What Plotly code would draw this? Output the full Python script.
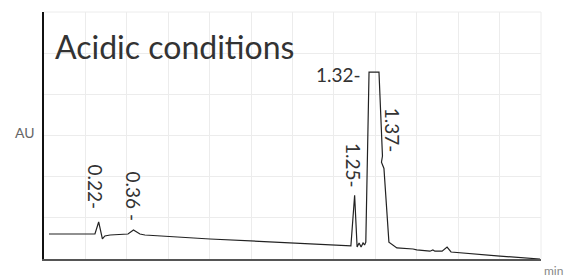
import plotly.graph_objects as go

time_min = [0.020, 0.205, 0.220, 0.235, 0.245, 0.266, 0.338, 0.360, 0.386, 0.406,
            0.668, 1.002, 1.235, 1.250, 1.260, 1.268, 1.276, 1.284, 1.290, 1.295,
            1.308, 1.348, 1.362, 1.358, 1.368, 1.388, 1.420, 1.485, 1.500, 1.553,
            1.565, 1.573, 1.602, 1.622, 1.638, 1.835, 1.996]
absorbance = [0.607, 0.607, 0.900, 0.486, 0.560, 0.583, 0.607, 0.704, 0.607, 0.583,
              0.486, 0.389, 0.320, 1.550, 0.290, 0.390, 0.290, 0.390, 0.340, 0.410,
              4.540, 4.540, 2.500, 2.350, 2.200, 0.410, 0.270, 0.243, 0.220, 0.190,
              0.220, 0.190, 0.190, 0.290, 0.170, 0.070, 0.000]

peak_labels = ["0.22-", "0.36 -", "1.25-", "1.32-", "1.37-"]
label_x = [0.209, 0.362, 1.243, 1.284, 1.404]
label_y = [1.74, 1.52, 2.26, 4.47, 3.12]
label_angle = [90, 90, 90, 0, 90]
label_xanchor = ["center", "center", "center", "right", "center"]

title_text = "Acidic conditions"
y_title = "AU"
x_title = "min"

FONT = "Lato, 'Open Sans', sans-serif"

fig = go.Figure()
fig.add_trace(go.Scatter(x=time_min, y=absorbance, mode="lines",
                         line=dict(color="#222222", width=1.2), hoverinfo="skip",
                         showlegend=False))

for t, x, y, a, xa in zip(peak_labels, label_x, label_y, label_angle, label_xanchor):
    fig.add_annotation(x=x, y=y, xref="x", yref="y", text=t, textangle=a,
                       showarrow=False, xanchor=xa, yanchor="middle",
                       font=dict(family=FONT, size=19, color="#333333"))

fig.add_annotation(x=0.018, y=0.862, xref="paper", yref="paper", text=title_text,
                   showarrow=False, xanchor="left", yanchor="middle",
                   font=dict(family=FONT, size=32, color="#333333"))
fig.add_annotation(x=-0.038, y=0.514, xref="paper", yref="paper", text=y_title,
                   showarrow=False, xanchor="center", yanchor="middle",
                   font=dict(family=FONT, size=14, color="#666666"))
fig.add_annotation(x=1.002, y=-0.045, xref="paper", yref="paper", text=x_title,
                   showarrow=False, xanchor="left", yanchor="middle",
                   font=dict(family=FONT, size=12, color="#888888"))

fig.update_layout(
    width=567, height=278,
    margin=dict(l=44, r=26, t=12, b=19),
    paper_bgcolor="white", plot_bgcolor="white",
    font=dict(family=FONT),
    xaxis=dict(range=[0, 2], dtick=1/6, tick0=0, showticklabels=False, ticks="",
               showgrid=True, gridcolor="#ececec", gridwidth=1, zeroline=False,
               showline=True, linecolor="#555555", linewidth=2, mirror=False, fixedrange=True),
    yaxis=dict(range=[0, 6], dtick=1, tick0=0, showticklabels=False, ticks="",
               showgrid=True, gridcolor="#ececec", gridwidth=1, zeroline=False,
               showline=True, linecolor="#111111", linewidth=2, fixedrange=True),
)
# right/top grid border
fig.add_shape(type="line", xref="paper", yref="paper", x0=1, x1=1, y0=0, y1=1,
              line=dict(color="#ececec", width=1))
fig.add_shape(type="line", xref="paper", yref="paper", x0=0, x1=1, y0=1, y1=1,
              line=dict(color="#ececec", width=1))

fig.write_html("out.html", config={"displayModeBar": False},
               post_script="document.body.style.margin='0';document.body.style.overflow='hidden';")
